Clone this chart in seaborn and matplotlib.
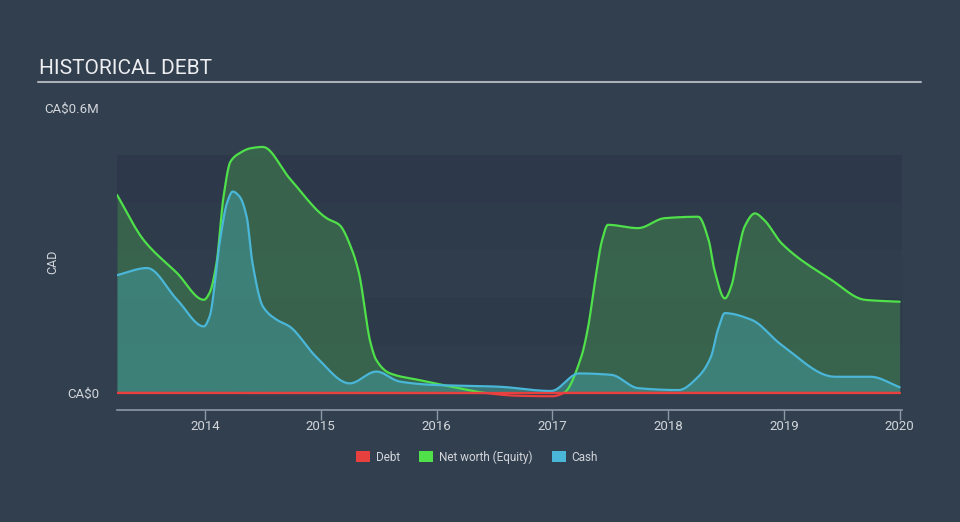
import numpy as np
import pandas as pd
import matplotlib
matplotlib.use("Agg")
import matplotlib.pyplot as plt
from matplotlib.patches import Patch
import seaborn as sns

# ---- data (values in CA$ millions, dates as decimal years) ----
equity_dates = [2013.24, 2013.47, 2013.76, 2013.99, 2014.04, 2014.10, 2014.16, 2014.22, 2014.30,
                2014.39, 2014.50, 2014.73, 2015.05, 2015.16, 2015.27, 2015.33, 2015.43, 2015.48,
                2015.59, 2015.85, 2016.13, 2016.45, 2016.70, 2017.00, 2017.10, 2017.25, 2017.31,
                2017.37, 2017.43, 2017.48, 2017.74, 2017.97, 2018.26, 2018.35, 2018.40, 2018.49,
                2018.55, 2018.60, 2018.66, 2018.75, 2018.83, 2018.98, 2019.41, 2019.70, 2020.00]
equity_values = [0.417, 0.322, 0.252, 0.196, 0.211, 0.274, 0.413, 0.487, 0.505,
                 0.515, 0.518, 0.452, 0.368, 0.354, 0.301, 0.252, 0.105, 0.069,
                 0.042, 0.027, 0.013, -0.001, -0.006, -0.007, 0.000, 0.076, 0.140,
                 0.238, 0.322, 0.354, 0.347, 0.368, 0.371, 0.322, 0.259, 0.199,
                 0.228, 0.290, 0.350, 0.378, 0.364, 0.315, 0.238, 0.196, 0.192]

cash_dates = [2013.24, 2013.50, 2013.76, 2013.99, 2014.04, 2014.13, 2014.19, 2014.24, 2014.30,
              2014.36, 2014.41, 2014.50, 2014.62, 2014.73, 2014.96, 2015.25, 2015.48, 2015.68,
              2015.96, 2016.54, 2016.99, 2017.23, 2017.51, 2017.74, 2018.09, 2018.26, 2018.37,
              2018.43, 2018.49, 2018.72, 2018.98, 2019.44, 2019.75, 2020.00]
cash_values = [0.248, 0.263, 0.196, 0.140, 0.161, 0.322, 0.400, 0.424, 0.413,
               0.371, 0.274, 0.182, 0.154, 0.140, 0.076, 0.020, 0.045, 0.024,
               0.017, 0.013, 0.004, 0.041, 0.038, 0.010, 0.006, 0.034, 0.076,
               0.133, 0.168, 0.154, 0.101, 0.034, 0.034, 0.012]

debt_dates = [2013.24, 2020.00]
debt_values = [0.0, 0.0]

year_ticks = [2014, 2015, 2016, 2017, 2018, 2019, 2020]
y_ticks = [0.0, 0.6]
y_tick_labels = ["CA$0", "CA$0.6M"]
legend_labels = ["Debt", "Net worth (Equity)", "Cash"]


def monotone_curve(x, y, per_seg=12):
    """Monotone cubic (like d3.curveMonotoneX) rendering of a polyline."""
    x = np.asarray(x, float)
    y = np.asarray(y, float)
    h = np.diff(x)
    d = np.diff(y) / h
    m = np.zeros_like(y)
    for i in range(1, len(y) - 1):
        if d[i - 1] * d[i] <= 0:
            m[i] = 0.0
        else:
            w1 = 2 * h[i] + h[i - 1]
            w2 = h[i] + 2 * h[i - 1]
            m[i] = (w1 + w2) / (w1 / d[i - 1] + w2 / d[i])
    m[0] = d[0]
    m[-1] = d[-1]
    xs, ys = [], []
    for i in range(len(h)):
        t = np.linspace(0, 1, per_seg, endpoint=(i == len(h) - 1))
        h00 = 2 * t**3 - 3 * t**2 + 1
        h10 = t**3 - 2 * t**2 + t
        h01 = -2 * t**3 + 3 * t**2
        h11 = t**3 - t**2
        xs.append(x[i] + t * h[i])
        ys.append(h00 * y[i] + h10 * h[i] * m[i] + h01 * y[i + 1] + h11 * h[i] * m[i + 1])
    return np.concatenate(xs), np.concatenate(ys)


ex, ey = monotone_curve(equity_dates, equity_values)
cx, cy = monotone_curve(cash_dates, cash_values)
eq_df = pd.DataFrame({"date": ex, "value": ey})
cash_df = pd.DataFrame({"date": cx, "value": cy})
debt_df = pd.DataFrame({"date": debt_dates, "value": debt_values})

BG = "#323f4f"
GREEN = "#4fe04a"
BLUE = "#4ab6d8"
RED = "#e8403f"
TXT = "#d2d6db"

sns.set_theme(style="dark")
plt.rcParams["font.family"] = ["Roboto", "DejaVu Sans"]

fig = plt.figure(figsize=(9.6, 5.22), dpi=100, facecolor=BG)
ax = fig.add_axes([117 / 960, 1 - 410 / 522, 785 / 960, (410 - 108) / 522])
ax.set_facecolor(BG)

# horizontal bands
band_cols = ["#2f3c4c", "#2d3a4a", "#303d4d", "#2e3b4b", "#2d394a"]
for i in range(5):
    ax.axhspan(i * 0.1, (i + 1) * 0.1, color=band_cols[i], zorder=0, lw=0)

ax.fill_between(eq_df["date"], eq_df["value"].clip(lower=0), 0, color="#3a6a4c", alpha=0.85, lw=0, zorder=1)
ax.fill_between(cash_df["date"], cash_df["value"], 0, color="#3f8a86", alpha=0.75, lw=0, zorder=2)

pos_eq = eq_df["value"].where(eq_df["value"] >= -0.0005)
neg_eq = eq_df["value"].clip(upper=0)
ax.plot(eq_df["date"], pos_eq, color=GREEN, lw=1.6, zorder=3, solid_capstyle="round")
ax.plot(cash_df["date"], cash_df["value"], color=BLUE, lw=1.6, zorder=4, solid_capstyle="round")
sns.lineplot(data=debt_df, x="date", y="value", ax=ax, color=RED, lw=1.6, zorder=5)
ax.plot(eq_df["date"], neg_eq, color=RED, lw=1.6, zorder=5)

ax.set_xlim(2013.24, 2020.02)
ax.set_ylim(-0.036, 0.6)
ax.set_xlabel("")
ax.set_ylabel("CAD", color=TXT, fontsize=9)
ax.yaxis.set_label_coords(-0.074, 0.49)

ax.set_xticks(year_ticks)
ax.set_xticklabels([str(y) for y in year_ticks], color=TXT, fontsize=9.5)
ax.set_yticks(y_ticks)
ax.set_yticklabels(y_tick_labels, color=TXT, fontsize=9.5)
ax.tick_params(axis="x", length=7, width=1, color="#8d98a5", pad=0.5, bottom=True)
ax.tick_params(axis="y", length=0, pad=13)
ax.grid(False)
for s in ["top", "right", "left"]:
    ax.spines[s].set_visible(False)
ax.spines["bottom"].set_color("#8d98a5")
ax.spines["bottom"].set_linewidth(1.2)

# title + rule
fig.text(39 / 960, 1 - 69 / 522, "HISTORICAL DEBT", color="#eceef0", fontsize=15, va="center", ha="left")
fig.add_artist(plt.Line2D([38 / 960, 921 / 960], [1 - 82 / 522, 1 - 82 / 522], color="#a9b0b8", lw=1.5))

handles = [Patch(facecolor=c, edgecolor="none") for c in [RED, GREEN, BLUE]]
leg = fig.legend(handles, legend_labels, loc="center", bbox_to_anchor=(0.497, 1 - 457 / 522), ncol=3,
                 frameon=False, fontsize=8.5, handlelength=1.2, handleheight=1.0, columnspacing=1.6,
                 handletextpad=0.5)
for t in leg.get_texts():
    t.set_color(TXT)

fig.savefig("out.png", dpi=100, facecolor=BG)
